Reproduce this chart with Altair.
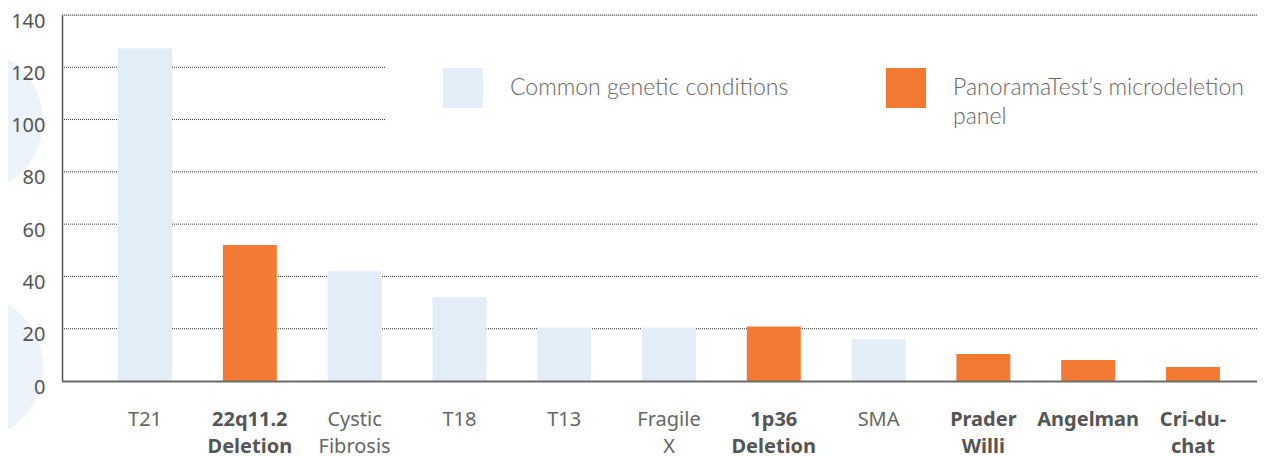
import altair as alt
import pandas as pd

# ---- data ----
categories = ["T21", "22q11.2|Deletion", "Cystic|Fibrosis", "T18", "T13", "Fragile|X",
              "1p36|Deletion", "SMA", "Prader|Willi", "Angelman", "Cri-du-|chat"]
values = [127.3, 52, 42, 32, 20.5, 20.5, 20.8, 16, 10.3, 8, 5.4]
COMMON = "Common genetic conditions"
PANEL = "PanoramaTest\u2019s microdeletion panel"
groups = [COMMON, PANEL, COMMON, COMMON, COMMON, COMMON, PANEL, COMMON, PANEL, PANEL, PANEL]
y_ticks = [0, 20, 40, 60, 80, 100, 120, 140]
grid_values = [20, 40, 60, 80, 100, 120, 140]

LIGHT = "#E3EDF8"
ORANGE = "#F37A33"
CIRCLE = "#EDF3FB"

df = pd.DataFrame({"cat": categories, "val": values, "grp": groups})
grid_df = pd.DataFrame({"g": grid_values})
deco_df = pd.DataFrame({"k": [0]})

bold_list = [c for c, g in zip(categories, groups) if g == PANEL]
bold_test = "indexof([" + ",".join("'" + c + "'" for c in bold_list) + "], datum.value) >= 0"

W, H = 1195, 366

yscale = alt.Scale(domain=[0, 140], nice=False)

# decorative background circles (left edge)
circle1 = alt.Chart(deco_df).mark_point(shape="circle", filled=True, color=CIRCLE, opacity=1, strokeWidth=0).encode(
    x=alt.value(-91), y=alt.value(106), size=alt.value(20736))
circle2 = alt.Chart(deco_df).mark_point(shape="circle", filled=True, color=CIRCLE, opacity=1, strokeWidth=0).encode(
    x=alt.value(-93), y=alt.value(352), size=alt.value(21904))

grid = alt.Chart(grid_df).mark_rule(color="#333333", strokeWidth=1, strokeDash=[1, 1]).encode(
    y=alt.Y("g:Q", scale=yscale)
)

# white box behind legend hiding gridlines
legend_box = alt.Chart(deco_df).mark_rect(color="white").encode(
    x=alt.value(324), x2=alt.value(W), y=alt.value(16), y2=alt.value(140)
)

bars = alt.Chart(df).mark_bar().encode(
    x=alt.X("cat:N", sort=None,
            scale=alt.Scale(range=[0, 1214], paddingInner=0.485, paddingOuter=0.535),
            axis=alt.Axis(title=None, labelExpr="split(datum.label, '|')", labelAngle=0,
                          ticks=False, labelPadding=28, labelFontSize=20, labelLineHeight=27,
                          labelFont="Noto Sans",
                          labelFontWeight={"condition": {"test": bold_test, "value": "bold"}, "value": "normal"},
                          labelColor={"condition": {"test": bold_test, "value": "#555555"}, "value": "#666666"},
                          domainColor="#6b6b6b", domainWidth=2, labelLimit=200, zindex=1)),
    y=alt.Y("val:Q", scale=yscale,
            axis=alt.Axis(title=None, values=y_ticks, ticks=False, grid=False, labelPadding=17,
                          labelFontSize=20, labelOffset=6, labelColor="#555555", labelFont="Noto Sans",
                          domainColor="#555555", domainWidth=1.5, zindex=1)),
    color=alt.Color("grp:N", scale=alt.Scale(domain=[COMMON, PANEL], range=[LIGHT, ORANGE]),
                    legend=alt.Legend(title=None, orient="none", legendX=381, legendY=53,
                                      direction="horizontal", symbolType="square", symbolSize=1600,
                                      symbolStrokeWidth=0, symbolOpacity=1, labelOffset=27,
                                      labelFontSize=23, labelFont="Lato", labelFontWeight=300,
                                      labelColor="#666666", columnPadding=97, labelLimit=400,
                                      padding=0,
                                      labelExpr="datum.label == '" + PANEL + "' ? ['PanoramaTest\u2019s microdeletion', 'panel'] : [datum.label, ' ']")),
)

chart = alt.layer(circle1, circle2, grid, legend_box, bars).properties(
    width=W, height=H,
    autosize=alt.AutoSizeParams(type="none"),
    padding={"left": 54, "top": 7, "right": 0, "bottom": 76},
).configure_view(stroke=None).configure(style={"guide-label": {"lineHeight": 29}}).configure_axisY(
    labelFontSize=20, labelPadding=17, labelOffset=6, labelColor="#555555", labelFont="Noto Sans",
    ticks=False, grid=False, domainColor="#555555", domainWidth=1.5, title=None
)

chart.save("out.html", embed_options={"renderer": "svg", "actions": False})
